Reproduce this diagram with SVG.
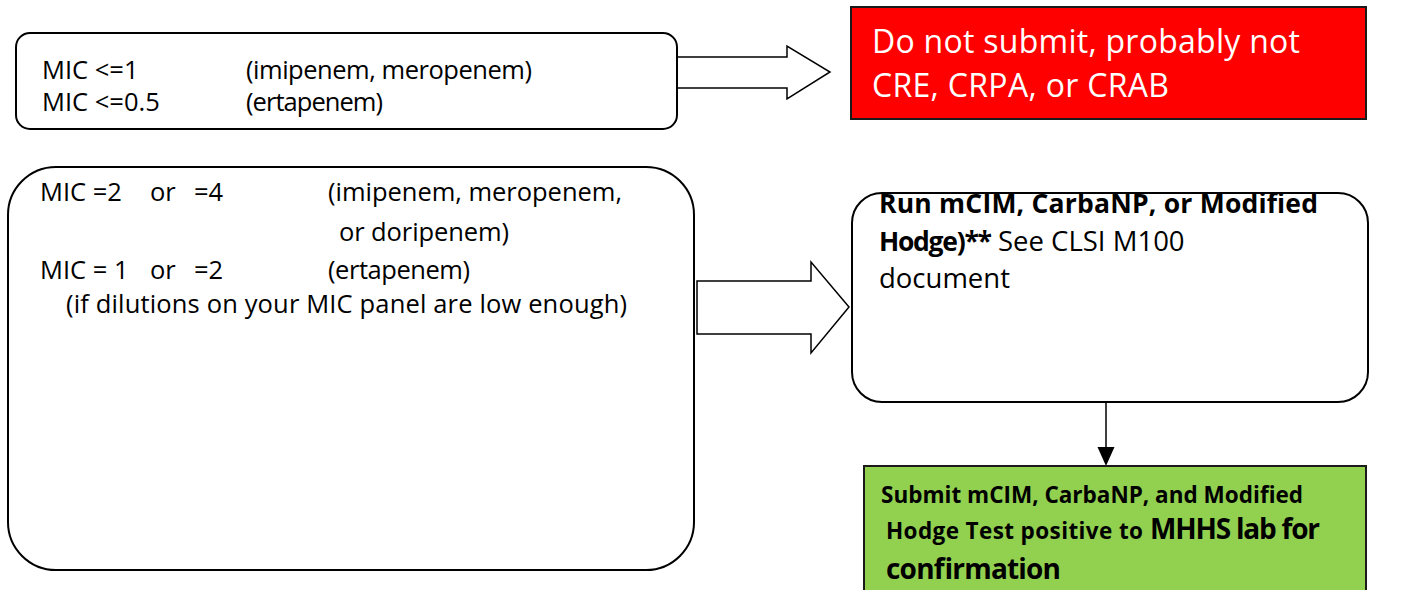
<svg xmlns="http://www.w3.org/2000/svg" width="1416" height="590" viewBox="0 0 1416 590">
  <style>
    .box { fill: #ffffff; stroke: #000000; stroke-width: 2; }
    .t { font-family: "Open Sans", Lato, "Liberation Sans", sans-serif; fill: #000000; }
    .n { font-size: 25.5px; }
    .b { font-weight: bold; }
    .w { fill: #ffffff; font-size: 32px; }
    .blk { fill: #ffffff; stroke: #000000; stroke-width: 1.5; stroke-linejoin: miter; }
  </style>

  <g id="connectors">
    <path class="blk" d="M677,57 L787,57 L787,46 L830,72 L787,99 L787,88 L677,88"/>
    <path class="blk" d="M697,281 L811,281 L811,262 L849,307 L811,353 L811,334 L697,334 Z"/>
    <line x1="1106" y1="403" x2="1106" y2="447" stroke="#000000" stroke-width="1.5"/>
    <path d="M1097.5,447 L1114.5,447 L1106,466 Z" fill="#000000"/>
  </g>

  <g id="low-mic">
    <rect class="box" x="16" y="33" width="661" height="96" rx="14"/>
    <text class="t n" x="42" y="79">MIC &lt;=1</text>
    <text class="t n" x="246" y="79" textLength="286">(imipenem, meropenem)</text>
    <text class="t n" x="42" y="111">MIC &lt;=0.5</text>
    <text class="t n" x="246" y="111" textLength="137">(ertapenem)</text>
  </g>

  <g id="do-not-submit">
    <rect x="851" y="7" width="515" height="112" fill="#ff0000" stroke="#1a1a1a" stroke-width="2"/>
    <text class="t w" x="872" y="53" textLength="428">Do not submit, probably not</text>
    <text class="t w" x="872" y="97" textLength="297">CRE, CRPA, or CRAB</text>
  </g>

  <g id="mid-mic">
    <rect class="box" x="8" y="167" width="686" height="403" rx="48"/>
    <text class="t n" x="40" y="201">MIC =2</text>
    <text class="t n" x="150" y="201">or</text>
    <text class="t n" x="194" y="201">=4</text>
    <text class="t n" x="328" y="201" textLength="294">(imipenem, meropenem,</text>
    <text class="t n" x="339" y="241" textLength="170">or doripenem)</text>
    <text class="t n" x="40" y="279">MIC = 1</text>
    <text class="t n" x="150" y="279">or</text>
    <text class="t n" x="194" y="279">=2</text>
    <text class="t n" x="328" y="279" textLength="142">(ertapenem)</text>
    <text class="t n" x="66" y="313" textLength="561">(if dilutions on your MIC panel are low enough)</text>
  </g>

  <g id="run-test">
    <rect class="box" x="852" y="193" width="516" height="209" rx="30"/>
    <text class="t b" x="879" y="213" font-size="26.5" textLength="439">Run mCIM, CarbaNP, or Modified</text>
    <text class="t b" x="879" y="251" font-size="26.5" textLength="113">Hodge)**</text>
    <text class="t" x="998" y="251" font-size="27.5">See CLSI M100</text>
    <text class="t" x="879" y="288" font-size="27.5">document</text>
  </g>

  <g id="submit">
    <rect x="864" y="466" width="502" height="130" fill="#92d050" stroke="#1a1a1a" stroke-width="2"/>
    <text class="t b" x="881" y="503" font-size="22.5" textLength="422">Submit mCIM, CarbaNP, and Modified</text>
    <text class="t b" x="886" y="539" font-size="22.5" textLength="257">Hodge Test positive to</text>
    <text class="t b" x="1150" y="539" font-size="28" textLength="170">MHHS lab for</text>
    <text class="t b" x="886" y="579" font-size="28" textLength="175">confirmation</text>
  </g>
</svg>
